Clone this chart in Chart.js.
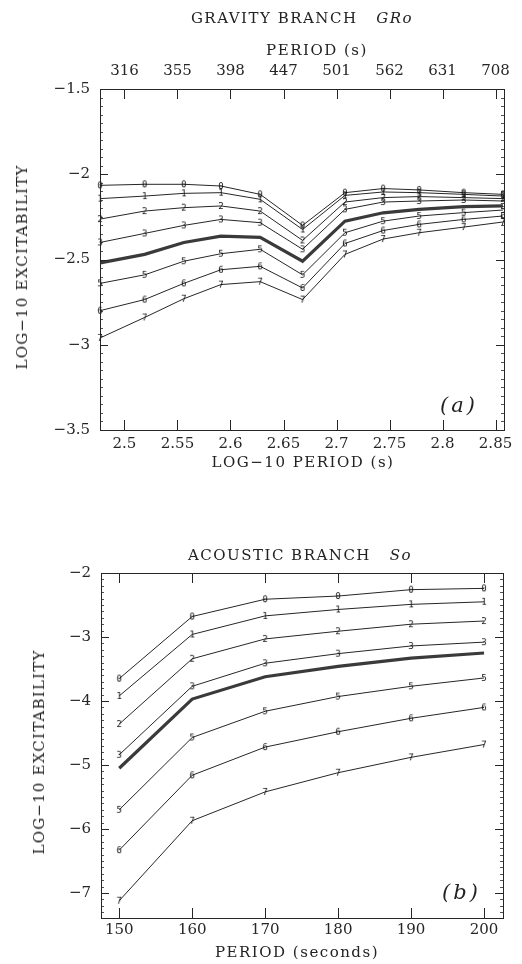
<!DOCTYPE html>
<html>
<head>
<meta charset="utf-8">
<script src="https://cdn.jsdelivr.net/npm/chart.js@4.4.1/dist/chart.umd.min.js"></script>
<style>
body { margin: 0; background: #fff; width: 522px; height: 964px; position: relative; overflow: hidden;
       font-family: "DejaVu Serif", serif; color: #222; }
canvas { position: absolute; left: 0; }
.t { position: absolute; white-space: nowrap; font-size: 15px; line-height: 16px; letter-spacing: 1.5px; transform: translateX(-50%); }
.v { position: absolute; white-space: nowrap; font-size: 15px; line-height: 16px; letter-spacing: 1.2px;
     transform: translate(-50%, -50%) rotate(-90deg); }
.i { font-style: italic; }
.tag { position: absolute; font-style: italic; font-size: 21px; line-height: 22px; letter-spacing: 3px; }
</style>
</head>
<body>
<canvas id="gravity" width="522" height="480" style="top:0"></canvas>
<canvas id="acoustic" width="522" height="484" style="top:480px"></canvas>

<div class="t" style="left:302px;top:10px">GRAVITY BRANCH&nbsp;&nbsp;&nbsp;<span class="i">GRo</span></div>
<div class="t" style="left:317px;top:42px">PERIOD (s)</div>
<div class="t" style="left:303px;top:454px">LOG−10 PERIOD (s)</div>
<div class="v" style="left:22px;top:267px">LOG−10 EXCITABILITY</div>
<div class="tag" style="left:440px;top:394px">(a)</div>

<div class="t" style="left:300px;top:547px">ACOUSTIC BRANCH&nbsp;&nbsp;&nbsp;<span class="i">So</span></div>
<div class="v" style="left:39px;top:752px">LOG−10 EXCITABILITY</div>
<div class="tag" style="left:442px;top:881px">(b)</div>
<div class="t" style="left:297px;top:944px">PERIOD (seconds)</div>

<script>
// ---- top panel: gravity branch GRo ----
var gravityLogPeriod = [2.477, 2.519, 2.556, 2.591, 2.628, 2.668, 2.708, 2.744, 2.778, 2.820, 2.857];
var gravity0 = [-2.065, -2.059, -2.059, -2.069, -2.118, -2.300, -2.108, -2.084, -2.092, -2.108, -2.118];
var gravity1 = [-2.143, -2.128, -2.112, -2.108, -2.147, -2.324, -2.124, -2.104, -2.108, -2.118, -2.128];
var gravity2 = [-2.263, -2.216, -2.196, -2.186, -2.216, -2.388, -2.163, -2.137, -2.131, -2.137, -2.143];
var gravity3 = [-2.400, -2.347, -2.300, -2.265, -2.284, -2.440, -2.206, -2.163, -2.157, -2.151, -2.157];
var gravity4 = [-2.520, -2.470, -2.400, -2.363, -2.370, -2.510, -2.275, -2.226, -2.206, -2.190, -2.186];
var gravity5 = [-2.640, -2.590, -2.510, -2.466, -2.440, -2.590, -2.343, -2.275, -2.245, -2.225, -2.210];
var gravity6 = [-2.800, -2.735, -2.640, -2.560, -2.540, -2.667, -2.406, -2.330, -2.294, -2.265, -2.245];
var gravity7 = [-2.960, -2.840, -2.730, -2.647, -2.630, -2.735, -2.470, -2.380, -2.343, -2.310, -2.280];
var gravityTickLog = [2.5, 2.55, 2.6, 2.65, 2.7, 2.75, 2.8, 2.85];
var gravityTickLabels = ['2.5', '2.55', '2.6', '2.65', '2.7', '2.75', '2.8', '2.85'];
var gravityPeriodLabels = ['316', '355', '398', '447', '501', '562', '631', '708'];
var gravityYTicks = [-1.5, -2, -2.5, -3, -3.5];
var gravityYLabels = ['−1.5', '−2', '−2.5', '−3', '−3.5'];

// ---- bottom panel: acoustic branch So ----
var acousticPeriod = [150, 160, 170, 180, 190, 200];
var acoustic0 = [-3.65, -2.68, -2.41, -2.36, -2.26, -2.24];
var acoustic1 = [-3.92, -2.96, -2.67, -2.57, -2.49, -2.45];
var acoustic2 = [-4.36, -3.34, -3.03, -2.91, -2.80, -2.75];
var acoustic3 = [-4.84, -3.77, -3.41, -3.26, -3.14, -3.08];
var acoustic4 = [-5.05, -3.97, -3.62, -3.46, -3.33, -3.25];
var acoustic5 = [-5.70, -4.57, -4.16, -3.93, -3.77, -3.64];
var acoustic6 = [-6.33, -5.16, -4.72, -4.48, -4.27, -4.10];
var acoustic7 = [-7.12, -5.87, -5.42, -5.12, -4.88, -4.68];
var acousticXTicks = [150, 160, 170, 180, 190, 200];
var acousticXLabels = ['150', '160', '170', '180', '190', '200'];
var acousticYTicks = [-2, -3, -4, -5, -6, -7];
var acousticYLabels = ['−2', '−3', '−4', '−5', '−6', '−7'];

var ink = '#262626';
var tickFont = { family: 'DejaVu Serif', size: 15 };

// little digit drawn as the point marker
function digitMarker(d) {
    var c = document.createElement('canvas');
    c.width = 8; c.height = 10;
    var g = c.getContext('2d');
    g.font = '9px "DejaVu Sans Mono"';
    g.fillStyle = '#111';
    g.textAlign = 'center';
    g.textBaseline = 'middle';
    g.fillText(String(d), 4, 5.5);
    return c;
}

// frame, inward major ticks and small minor ticks
var boxTicks = {
    id: 'boxTicks',
    afterDatasetsDraw: function (chart, args, opts) {
        var ctx = chart.ctx, a = chart.chartArea;
        ctx.save();
        ctx.strokeStyle = ink;
        ctx.lineWidth = 1;
        ctx.strokeRect(Math.round(a.left) + 0.5, Math.round(a.top) + 0.5,
                       Math.round(a.right - a.left), Math.round(a.bottom - a.top));
        function mark(s, v, len, both) {
            var p = Math.round(s.getPixelForValue(v)) + 0.5;
            ctx.beginPath();
            if (s.isHorizontal()) {
                if (s.position === 'bottom' || both) { ctx.moveTo(p, a.bottom); ctx.lineTo(p, a.bottom - len); }
                if (s.position === 'top' || both) { ctx.moveTo(p, a.top); ctx.lineTo(p, a.top + len); }
            } else {
                ctx.moveTo(a.left, p); ctx.lineTo(a.left + len, p);
                ctx.moveTo(a.right, p); ctx.lineTo(a.right - len, p);
            }
            ctx.stroke();
        }
        Object.keys(chart.scales).forEach(function (id) {
            var s = chart.scales[id];
            var minor = (opts.minor || {})[id];
            if (minor) {
                ctx.lineWidth = 0.8;
                var start = Math.ceil(s.min / minor) * minor;
                for (var v = start; v <= s.max; v += minor) mark(s, v, 3, opts.mirror);
                ctx.lineWidth = 1;
            }
            s.ticks.forEach(function (t) {
                mark(s, t.value, s.isHorizontal() ? 10 : 8, opts.mirror);
            });
        });
        ctx.restore();
    }
};

function fixedTicks(values) {
    return function (s) {
        s.ticks = values.map(function (v) { return { value: v }; });
    };
}

function makeDatasets(xs, series) {
    return series.map(function (ys, k) {
        var thick = (k === 4);
        return {
            data: xs.map(function (x, i) { return { x: x, y: ys[i] }; }),
            borderColor: thick ? '#3a3a3a' : ink,
            borderWidth: thick ? 3.2 : 1,
            tension: 0,
            clip: false,
            pointStyle: thick ? false : digitMarker(k),
            pointRadius: thick ? 0 : 5,
            pointHoverRadius: 0
        };
    });
}

function axisStyle(extra) {
    var base = {
        type: 'linear',
        grid: { display: false, drawTicks: false },
        border: { display: false },
        ticks: { font: tickFont, color: ink, autoSkip: false, maxRotation: 0 }
    };
    return Object.assign(base, extra);
}

new Chart(document.getElementById('gravity').getContext('2d'), {
    type: 'line',
    data: {
        datasets: makeDatasets(gravityLogPeriod,
            [gravity0, gravity1, gravity2, gravity3, gravity4, gravity5, gravity6, gravity7])
    },
    options: {
        responsive: false,
        animation: false,
        events: [],
        layout: { padding: { left: 0, right: 18, top: 0, bottom: 0 } },
        plugins: {
            legend: { display: false }, tooltip: { enabled: false },
            boxTicks: { mirror: false, minor: { y: 0.05 } }
        },
        scales: {
            x: axisStyle({
                position: 'bottom', min: 2.4769, max: 2.858,
                afterBuildTicks: fixedTicks(gravityTickLog),
                afterFit: function (s) { s.height = 50; },
                ticks: { font: tickFont, color: ink, autoSkip: false, maxRotation: 0, padding: 5,
                         callback: function (v, i) { return gravityTickLabels[i]; } }
            }),
            x2: axisStyle({
                position: 'top', min: 2.4769, max: 2.858,
                afterBuildTicks: fixedTicks(gravityTickLog),
                afterFit: function (s) { s.height = 89; },
                ticks: { font: tickFont, color: ink, autoSkip: false, maxRotation: 0, padding: 9,
                         callback: function (v, i) { return gravityPeriodLabels[i]; } }
            }),
            y: axisStyle({
                position: 'left', min: -3.5, max: -1.5,
                afterBuildTicks: fixedTicks(gravityYTicks),
                afterFit: function (s) { s.width = 100; },
                ticks: { font: tickFont, color: ink, padding: 10,
                         callback: function (v, i) { return gravityYLabels[i]; } }
            })
        }
    },
    plugins: [boxTicks]
});

new Chart(document.getElementById('acoustic').getContext('2d'), {
    type: 'line',
    data: {
        datasets: makeDatasets(acousticPeriod,
            [acoustic0, acoustic1, acoustic2, acoustic3, acoustic4, acoustic5, acoustic6, acoustic7])
    },
    options: {
        responsive: false,
        animation: false,
        events: [],
        layout: { padding: { left: 0, right: 19, top: 93, bottom: 0 } },
        plugins: {
            legend: { display: false }, tooltip: { enabled: false },
            boxTicks: { mirror: true, minor: { y: 0.1 } }
        },
        scales: {
            x: axisStyle({
                position: 'bottom', min: 147.5, max: 202.6,
                afterBuildTicks: fixedTicks(acousticXTicks),
                afterFit: function (s) { s.height = 46; },
                ticks: { font: tickFont, color: ink, autoSkip: false, maxRotation: 0, padding: 3,
                         callback: function (v, i) { return acousticXLabels[i]; } }
            }),
            y: axisStyle({
                position: 'left', min: -7.39, max: -2,
                afterBuildTicks: fixedTicks(acousticYTicks),
                afterFit: function (s) { s.width = 101; },
                ticks: { font: tickFont, color: ink, padding: 10,
                         callback: function (v, i) { return acousticYLabels[i]; } }
            })
        }
    },
    plugins: [boxTicks]
});
</script>
</body>
</html>
